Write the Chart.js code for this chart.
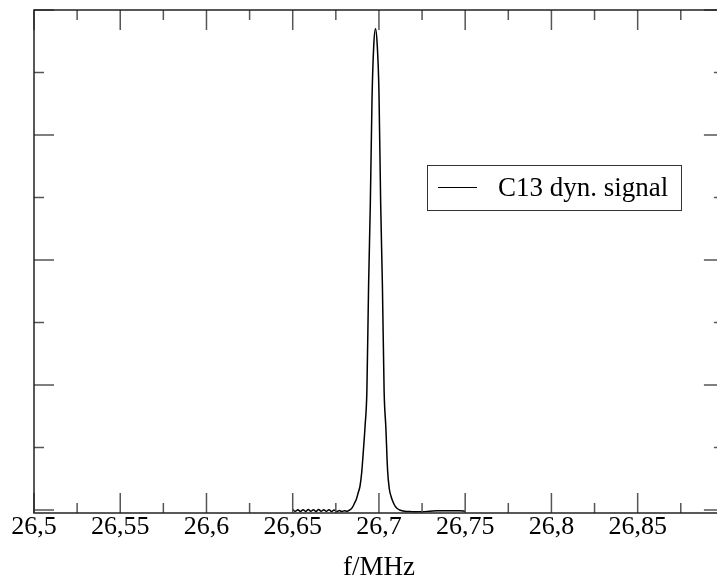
<!DOCTYPE html>
<html>
<head>
<meta charset="utf-8">
<script src="https://cdn.jsdelivr.net/npm/chart.js@4/dist/chart.umd.min.js"></script>
<style>
  html, body { margin: 0; padding: 0; background: #fff; }
  #wrap { width: 717px; height: 576px; }
</style>
</head>
<body>
<div id="wrap"><canvas id="c"></canvas></div>
<script>
// data (f in MHz, signal in arbitrary units)
const freqs = [
  26.6500, 26.6515, 26.6530, 26.6545, 26.6560, 26.6575, 26.6590, 26.6605, 26.6620, 26.6635,
  26.6650, 26.6665, 26.6680, 26.6695, 26.6710, 26.6725, 26.6740, 26.6755, 26.6770, 26.6785,
  26.6800, 26.6815, 26.6830, 26.6840, 26.6850, 26.6860, 26.6870, 26.6880, 26.6890, 26.6900,
  26.6910, 26.6920, 26.6930, 26.6940, 26.6950, 26.6960, 26.6970, 26.6980, 26.6990, 26.7000,
  26.7010, 26.7020, 26.7030, 26.7040, 26.7050, 26.7060, 26.7070, 26.7080, 26.7090, 26.7100,
  26.7110, 26.7120, 26.7140, 26.7160, 26.7190, 26.7220, 26.7250, 26.7280, 26.7310, 26.7340,
  26.7370, 26.7400, 26.7430, 26.7460, 26.7490, 26.7500
];
const signal = [
  0.004, -0.010, 0.002, -0.012, 0.003, -0.011, 0.004, -0.010, 0.003, -0.012,
  0.004, -0.010, 0.002, -0.011, 0.003, -0.012, 0.000, -0.013, -0.004, -0.012,
  -0.006, -0.010, 0.000, 0.010, 0.030, 0.060, 0.090, 0.140, 0.190, 0.300,
  0.480, 0.680, 0.950, 1.800, 2.450, 3.300, 3.720, 3.850, 3.720, 3.350,
  2.450, 1.800, 0.950, 0.660, 0.320, 0.170, 0.110, 0.070, 0.040, 0.020,
  0.008, 0.000, -0.008, -0.012, -0.013, -0.014, -0.013, -0.011, -0.008, -0.006,
  -0.005, -0.005, -0.005, -0.006, -0.008, -0.012
];
const seriesLabel = "C13 dyn. signal";
const xTitle = "f/MHz";
const xMajorTicks = [26.5, 26.55, 26.6, 26.65, 26.7, 26.75, 26.8, 26.85];
const xMinorTicks = [26.525, 26.575, 26.625, 26.675, 26.725, 26.775, 26.825, 26.875];
const yMajorTicks = [0, 1, 2, 3, 4];
const yMinorTicks = [0.5, 1.5, 2.5, 3.5];
const xFrameEnd = 26.9;   // right frame edge, just outside the picture

const SERIF = "'Liberation Serif', 'Times New Roman', serif";

// frame + inward ticks on all four sides, plus the axis title
const frameTicks = {
  id: "frameTicks",
  afterDraw(chart) {
    const { ctx, chartArea: a, scales: { x, y } } = chart;
    const right = x.getPixelForValue(xFrameEnd);
    ctx.save();
    ctx.lineCap = "butt";
    ctx.strokeStyle = "#555";
    ctx.lineWidth = 1.5;
    const tick = (x1, y1, x2, y2) => { ctx.beginPath(); ctx.moveTo(x1, y1); ctx.lineTo(x2, y2); ctx.stroke(); };
    xMajorTicks.forEach(v => { const p = x.getPixelForValue(v); tick(p, a.bottom, p, a.bottom - 20); tick(p, a.top, p, a.top + 20); });
    xMinorTicks.forEach(v => { const p = x.getPixelForValue(v); tick(p, a.bottom, p, a.bottom - 10); tick(p, a.top, p, a.top + 10); });
    yMajorTicks.forEach(v => { const p = y.getPixelForValue(v); tick(a.left, p, a.left + 20, p); tick(right, p, right - 20, p); });
    yMinorTicks.forEach(v => { const p = y.getPixelForValue(v); tick(a.left, p, a.left + 10, p); tick(right, p, right - 10, p); });
    ctx.strokeStyle = "#222";
    ctx.strokeRect(a.left, a.top, right - a.left, a.bottom - a.top);

    ctx.fillStyle = "#000";
    ctx.font = "27px " + SERIF;
    ctx.textAlign = "center";
    ctx.textBaseline = "alphabetic";
    ctx.fillText(xTitle, (a.left + right) / 2, 575);
    ctx.restore();
  }
};

// boxed legend inside the plot
const boxLegend = {
  id: "boxLegend",
  afterDraw(chart) {
    const { ctx } = chart;
    ctx.save();
    ctx.strokeStyle = "#333";
    ctx.lineWidth = 1;
    ctx.strokeRect(427.5, 165.5, 254, 45);
    ctx.strokeStyle = "#000";
    ctx.beginPath(); ctx.moveTo(438, 187.5); ctx.lineTo(477, 187.5); ctx.stroke();
    ctx.fillStyle = "#000";
    ctx.font = "27px " + SERIF;
    ctx.textBaseline = "alphabetic";
    ctx.fillText(chart.data.datasets[0].label, 498, 196);
    ctx.restore();
  }
};

new Chart(document.getElementById("c"), {
  type: "line",
  data: { datasets: [{
    label: seriesLabel,
    data: freqs.map((f, i) => ({ x: f, y: signal[i] })),
    borderColor: "#000", borderWidth: 1.5, pointRadius: 0,
    cubicInterpolationMode: "monotone", fill: false
  }]},
  options: {
    responsive: true, maintainAspectRatio: false, animation: false,
    layout: { padding: { left: 34, top: 10, right: 0, bottom: 0 } },
    plugins: { legend: { display: false }, tooltip: { enabled: false } },
    scales: {
      x: {
        type: "linear", min: 26.5, max: 26.896,
        afterBuildTicks: s => { s.ticks = xMajorTicks.map(v => ({ value: v })); },
        afterFit: s => { s.height = 63; },
        grid: { display: false, drawTicks: false, tickLength: 0 }, border: { display: false },
        ticks: {
          autoSkip: false, maxRotation: 0, padding: -1, color: "#000",
          font: { family: SERIF, size: 26 },
          callback: v => String(v).replace(".", ",")
        },
        title: { display: false }
      },
      y: { display: false, min: -0.024, max: 4 }
    }
  },
  plugins: [frameTicks, boxLegend]
});
</script>
</body>
</html>
